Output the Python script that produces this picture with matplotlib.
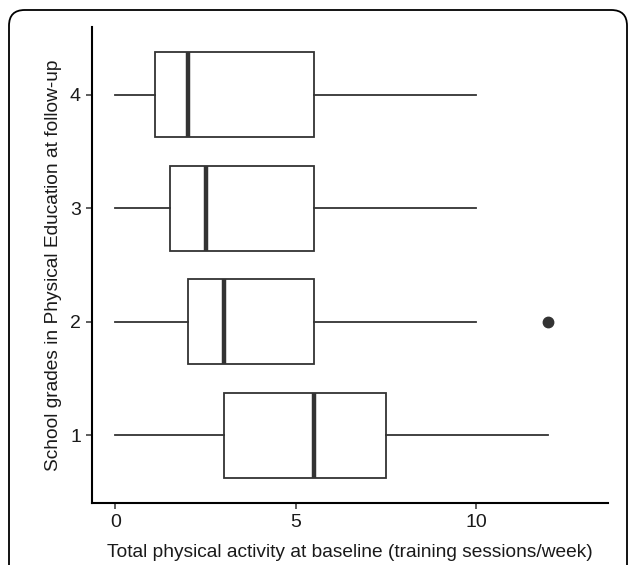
import matplotlib
matplotlib.use("Agg")
import matplotlib.pyplot as plt
from matplotlib.patches import FancyBboxPatch

plt.rcParams['font.family'] = ['Liberation Sans', 'DejaVu Sans']

categories = ["1", "2", "3", "4"]
whisker_low = [0, 0, 0, 0]
q1 = [3.0, 2.0, 1.5, 1.1]
median = [5.5, 3.0, 2.5, 2.0]
q3 = [7.5, 5.5, 5.5, 5.5]
whisker_high = [12, 10, 10, 10]
outliers = [[], [12], [], []]
xticks = [0, 5, 10]

W, H = 630, 565
fig = plt.figure(figsize=(W/100, H/100), dpi=100)
ax = fig.add_axes([92/W, 1-503/H, (608-92)/W, (503-27)/H])

stats = []
for i, c in enumerate(categories):
    stats.append(dict(label=c, whislo=whisker_low[i], q1=q1[i], med=median[i],
                      q3=q3[i], whishi=whisker_high[i], fliers=outliers[i]))

lc = '#333333'
ax.bxp(stats, positions=range(1, len(categories)+1), vert=False, widths=0.75,
       showcaps=False, patch_artist=True,
       boxprops=dict(facecolor='white', edgecolor=lc, linewidth=1.3),
       whiskerprops=dict(color=lc, linewidth=1.3),
       medianprops=dict(color=lc, linewidth=3.2, solid_capstyle='butt'),
       flierprops=dict(marker='o', markerfacecolor=lc, markeredgecolor=lc, markersize=7.5))

ax.set_xlim(-0.65, 13.65)
ax.set_ylim(0.4, 4.6)
ax.set_xticks(xticks)
ax.set_xticklabels([str(t) for t in xticks])
ax.set_yticks(range(1, len(categories)+1))
ax.set_yticklabels(categories)
for s in ['top', 'right']:
    ax.spines[s].set_visible(False)
for s in ['left', 'bottom']:
    ax.spines[s].set_linewidth(1.5)
    ax.spines[s].set_color('black')
ax.tick_params(axis='both', length=4.5, width=1.1, color='#333333', labelsize=14,
               labelcolor='#1a1a1a', pad=3.5)
ax.set_xlabel("Total physical activity at baseline (training sessions/week)", fontsize=13.8,
              color='#1a1a1a', labelpad=9)
ax.set_ylabel("School grades in Physical Education at follow-up", fontsize=13.8,
              color='#1a1a1a', labelpad=6)

frame = FancyBboxPatch((9/W, -0.1), (627-9)/W, (H-10)/H + 0.1,
                       boxstyle="round,pad=0,rounding_size=0.025",
                       transform=fig.transFigure, fill=False, edgecolor='black',
                       linewidth=1.3, clip_on=False, mutation_aspect=W/H)
fig.patches.append(frame)

fig.savefig("out.png", dpi=100)
